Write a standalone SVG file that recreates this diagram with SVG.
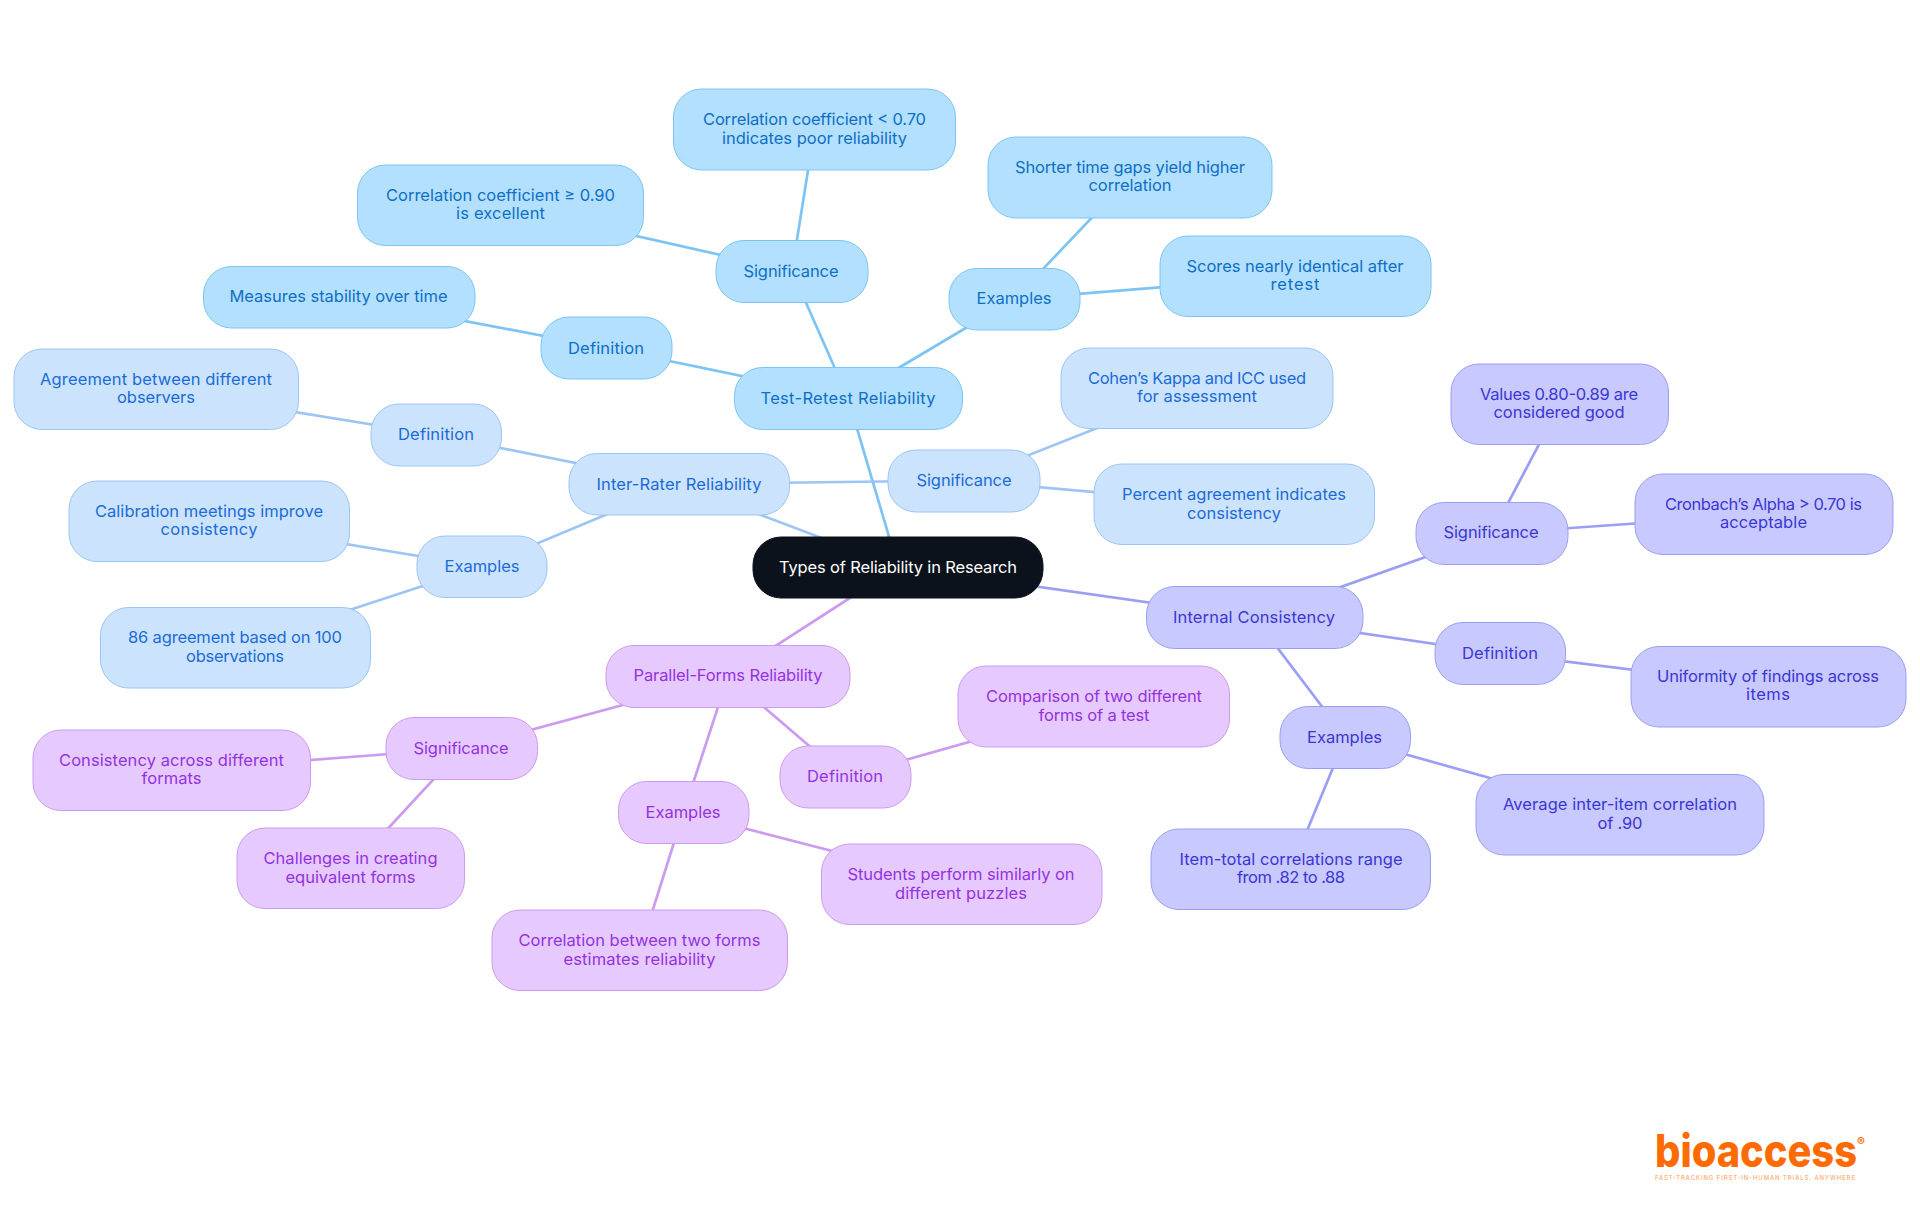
<svg xmlns="http://www.w3.org/2000/svg" width="1920" height="1215" viewBox="0 0 1920 1215">
<style>
text{font-family:Inter,"Liberation Sans",sans-serif;font-size:16.5px;text-anchor:middle}
rect{stroke-width:1}
.e{fill:none;stroke-width:2.7;stroke-linecap:round}
.etr{stroke:#7cc4f5}.eir{stroke:#9cc4f5}.eic{stroke:#9b9ef5}.epf{stroke:#cc9bf0}
.tr rect{fill:#b3e0ff;stroke:#7cc4f5}.tr text{fill:#0f6fc6}
.ir rect{fill:#cce3fd;stroke:#9cc4f5}.ir text{fill:#1b6cd8}
.ic rect{fill:#c7c9ff;stroke:#9b9ef5}.ic text{fill:#3c36d4}
.pf rect{fill:#e6c9ff;stroke:#cc9bf0}.pf text{fill:#9333e0}
.root rect{fill:#0b121b;stroke:#0b121b}.root text{fill:#fff}
.logo text{fill:#ff6b00}
</style>
<g id="connectors">
<path class="e etr" d="M898 567L848 398M848 398L792 271M792 271L814.500 129.500M792 271L500.750 205.500M848 398L606.500 348M606.500 348L339 297M848 398L1014.500 299M1014.500 299L1130 177.500M1014.500 299L1295.500 276.500"/>
<path class="e eir" d="M898 567L679.500 484M679.500 484L436.500 435M436.500 435L156.500 389.500M679.500 484L964.500 480.500M964.500 480.500L1197 388.500M964.500 480.500L1234.500 504.500M679.500 484L482 566.500M482 566.500L209.500 521.500M482 566.500L235.500 647.500"/>
<path class="e eic" d="M898 567L1254.500 617.500M1254.500 617.500L1492 533.500M1492 533.500L1560 404.500M1492 533.500L1764 514.500M1254.500 617.500L1500.500 653.500M1500.500 653.500L1768.500 686.500M1254.500 617.500L1345.500 737.500M1345.500 737.500L1620 814.500M1345.500 737.500L1291 869.500"/>
<path class="e epf" d="M898 567L728 676.500M728 676.500L462 748.500M462 748.500L172 770.500M462 748.500L351 868.500M728 676.500L683.500 812.500M683.500 812.500L961.500 884.500M683.500 812.500L640 950.500M728 676.500L845.500 777M845.500 777L1094 706.500"/>
</g>
<g id="root" class="root"><rect x="753" y="537" width="290" height="61" rx="28"/><text x="898" y="573" textLength="238">Types of Reliability in Research</text></g>

<g id="test-retest" class="tr"><rect x="734.500" y="367.500" width="228" height="62" rx="28"/><text x="848" y="404" textLength="175">Test-Retest Reliability</text></g>
<g id="tr-significance" class="tr"><rect x="716" y="240.500" width="152" height="62" rx="28"/><text x="791" y="277" textLength="95">Significance</text></g>
<g id="tr-examples" class="tr"><rect x="949" y="268.500" width="131" height="61.500" rx="28"/><text x="1014" y="304" textLength="75">Examples</text></g>
<g id="tr-definition" class="tr"><rect x="541" y="317" width="131" height="62" rx="28"/><text x="606" y="353.500" textLength="76">Definition</text></g>
<g id="tr-poor" class="tr"><rect x="673.500" y="89" width="282" height="81" rx="28"/><text x="814.500" y="125" textLength="223">Correlation coefficient &lt; 0.70</text><text x="814.500" y="144" textLength="185">indicates poor reliability</text></g>
<g id="tr-excellent" class="tr"><rect x="357.500" y="165" width="286" height="80.500" rx="28"/><text x="500.500" y="201" textLength="229">Correlation coefficient ≥ 0.90</text><text x="500.500" y="219" textLength="89">is excellent</text></g>
<g id="tr-stability" class="tr"><rect x="203.500" y="266.500" width="271.500" height="61.500" rx="28"/><text x="338.500" y="302" textLength="218">Measures stability over time</text></g>
<g id="tr-shorter" class="tr"><rect x="988" y="137" width="284" height="81" rx="28"/><text x="1130" y="173" textLength="230">Shorter time gaps yield higher</text><text x="1130" y="191" textLength="83">correlation</text></g>
<g id="tr-scores" class="tr"><rect x="1160" y="236" width="271" height="80.500" rx="28"/><text x="1295" y="272" textLength="217">Scores nearly identical after</text><text x="1295" y="290" textLength="49">retest</text></g>

<g id="inter-rater" class="ir"><rect x="569" y="453.500" width="220.500" height="61.500" rx="28"/><text x="679" y="490" textLength="165">Inter-Rater Reliability</text></g>
<g id="ir-definition" class="ir"><rect x="371" y="404" width="130.500" height="62" rx="28"/><text x="436" y="440" textLength="76">Definition</text></g>
<g id="ir-agreement" class="ir"><rect x="14" y="349" width="284.500" height="80.500" rx="28"/><text x="156" y="385" textLength="232">Agreement between different</text><text x="156" y="403" textLength="78">observers</text></g>
<g id="ir-significance" class="ir"><rect x="888" y="450" width="152" height="62" rx="28"/><text x="964" y="486" textLength="95">Significance</text></g>
<g id="ir-cohen" class="ir"><rect x="1061" y="348" width="272" height="80.500" rx="28"/><text x="1197" y="384" textLength="218">Cohen’s Kappa and ICC used</text><text x="1197" y="402" textLength="120">for assessment</text></g>
<g id="ir-percent" class="ir"><rect x="1094" y="464" width="280.500" height="80.500" rx="28"/><text x="1234" y="500" textLength="224">Percent agreement indicates</text><text x="1234" y="519" textLength="94">consistency</text></g>
<g id="ir-examples" class="ir"><rect x="417" y="536" width="130" height="61.500" rx="28"/><text x="482" y="572" textLength="75">Examples</text></g>
<g id="ir-calibration" class="ir"><rect x="69" y="481" width="280.500" height="80.500" rx="28"/><text x="209" y="517" textLength="228">Calibration meetings improve</text><text x="209" y="535" textLength="97">consistency</text></g>
<g id="ir-86" class="ir"><rect x="100.500" y="607.500" width="270" height="80.500" rx="28"/><text x="235" y="643" textLength="214">86 agreement based on 100</text><text x="235" y="662" textLength="98">observations</text></g>

<g id="internal" class="ic"><rect x="1146.500" y="586.500" width="216.500" height="62" rx="28"/><text x="1254" y="623" textLength="162">Internal Consistency</text></g>
<g id="ic-significance" class="ic"><rect x="1416" y="502.500" width="152" height="62" rx="28"/><text x="1491" y="538" textLength="95">Significance</text></g>
<g id="ic-definition" class="ic"><rect x="1435" y="622.500" width="130.500" height="62" rx="28"/><text x="1500" y="658.500" textLength="76">Definition</text></g>
<g id="ic-examples" class="ic"><rect x="1280" y="706.500" width="130.500" height="62" rx="28"/><text x="1344.500" y="743" textLength="75">Examples</text></g>
<g id="ic-values" class="ic"><rect x="1451" y="364" width="217.500" height="80.500" rx="28"/><text x="1559" y="400" textLength="158">Values 0.80-0.89 are</text><text x="1559" y="418" textLength="131">considered good</text></g>
<g id="ic-cronbach" class="ic"><rect x="1635" y="474" width="258" height="80.500" rx="28"/><text x="1763.500" y="510" textLength="197">Cronbach’s Alpha &gt; 0.70 is</text><text x="1763.500" y="528" textLength="87">acceptable</text></g>
<g id="ic-uniformity" class="ic"><rect x="1631" y="646.500" width="275" height="80.500" rx="28"/><text x="1768" y="682" textLength="222">Uniformity of findings across</text><text x="1768" y="700" textLength="44">items</text></g>
<g id="ic-average" class="ic"><rect x="1476" y="774.500" width="288" height="80.500" rx="28"/><text x="1620" y="810" textLength="234">Average inter-item correlation</text><text x="1620" y="829" textLength="45">of .90</text></g>
<g id="ic-itemtotal" class="ic"><rect x="1151" y="829" width="279.500" height="80.500" rx="28"/><text x="1291" y="865" textLength="223">Item-total correlations range</text><text x="1291" y="883" textLength="108">from .82 to .88</text></g>

<g id="parallel" class="pf"><rect x="606" y="645.500" width="244" height="62" rx="28"/><text x="728" y="681" textLength="189">Parallel-Forms Reliability</text></g>
<g id="pf-significance" class="pf"><rect x="386" y="717.500" width="151.500" height="62" rx="28"/><text x="461" y="754" textLength="95">Significance</text></g>
<g id="pf-definition" class="pf"><rect x="780" y="746" width="131" height="62" rx="28"/><text x="845" y="782" textLength="76">Definition</text></g>
<g id="pf-examples" class="pf"><rect x="618.500" y="781.500" width="130.500" height="62" rx="28"/><text x="683" y="818" textLength="75">Examples</text></g>
<g id="pf-comparison" class="pf"><rect x="958" y="666" width="271.500" height="81" rx="28"/><text x="1094" y="702" textLength="216">Comparison of two different</text><text x="1094" y="721" textLength="111">forms of a test</text></g>
<g id="pf-consistency" class="pf"><rect x="33" y="730" width="277.500" height="80.500" rx="28"/><text x="171.500" y="766" textLength="225">Consistency across different</text><text x="171.500" y="784" textLength="60">formats</text></g>
<g id="pf-challenges" class="pf"><rect x="237" y="828" width="227.500" height="80.500" rx="28"/><text x="350.500" y="864" textLength="174">Challenges in creating</text><text x="350.500" y="883" textLength="130">equivalent forms</text></g>
<g id="pf-students" class="pf"><rect x="821.500" y="844" width="280.500" height="80.500" rx="28"/><text x="961" y="880" textLength="227">Students perform similarly on</text><text x="961" y="899" textLength="132">different puzzles</text></g>
<g id="pf-correlation" class="pf"><rect x="492" y="910" width="295.500" height="80.500" rx="28"/><text x="639.500" y="946" textLength="242">Correlation between two forms</text><text x="639.500" y="964.500" textLength="152">estimates reliability</text></g>

<g id="logo" class="logo">
<text x="1756" y="1167" textLength="202" lengthAdjust="spacingAndGlyphs" style="font-size:45px;font-weight:800">bioaccess</text>
<text x="1857" y="1146" style="font-size:12px;font-weight:700;text-anchor:start">®</text>
<text x="1755" y="1180" textLength="200" style="font-size:6px;fill:#ff9a50">FAST-TRACKING FIRST-IN-HUMAN TRIALS, ANYWHERE</text>
</g>
</svg>
